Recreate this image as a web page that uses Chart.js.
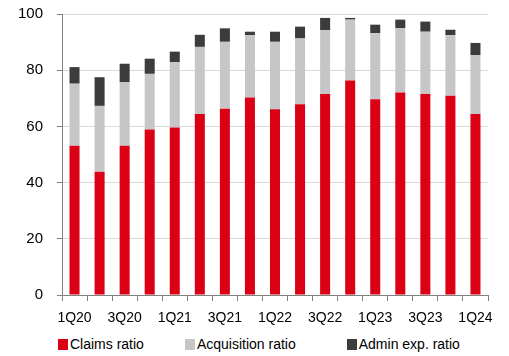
<!DOCTYPE html>
<html>
<head>
<meta charset="utf-8">
<script src="https://cdn.jsdelivr.net/npm/chart.js@4.4.1/dist/chart.umd.min.js"></script>
<style>
  html, body { margin: 0; padding: 0; background: #fff; }
  #wrap { position: relative; width: 509px; height: 356px; }
  #box { position: absolute; left: 0; top: 0; width: 509px; height: 332px; }
  #legend { position: absolute; left: 58px; top: 336px; display: flex; align-items: center;
            font: 14px "Liberation Sans", Arial, sans-serif; color: #000; white-space: nowrap; }
  #legend .item { display: flex; align-items: center; }
  #legend .sw { width: 10px; height: 11px; margin-right: 2px; }
  #legend .item:nth-child(2) { margin-left: 41px; }
  #legend .item:nth-child(3) { margin-left: 51px; }
</style>
</head>
<body>
<div id="wrap">
  <div id="box"><canvas id="c"></canvas></div>
  <div id="legend"></div>
</div>
<script>
// Quarterly combined-ratio components (%)
const quarters = ['1Q20','2Q20','3Q20','4Q20','1Q21','2Q21','3Q21','4Q21','1Q22','2Q22','3Q22','4Q22','1Q23','2Q23','3Q23','4Q23','1Q24'];
const claimsRatio      = [53.1, 43.9, 53.1, 58.9, 59.6, 64.4, 66.3, 70.3, 66.1, 67.9, 71.5, 76.3, 69.7, 72.1, 71.5, 70.9, 64.4];
const acquisitionRatio = [22.1, 23.4, 22.7, 19.8, 23.3, 23.9, 23.8, 22.2, 24.0, 23.4, 22.8, 21.7, 23.5, 22.8, 22.2, 21.6, 21.0];
const adminExpRatio    = [ 5.9, 10.2,  6.5,  5.4,  3.7,  4.3,  4.8,  1.2,  3.6,  4.2,  4.3,  0.6,  3.0,  3.1,  3.6,  1.9,  4.3];
const yTicks = [0, 20, 40, 60, 80, 100];

const FONT = { family: '"Liberation Sans", Arial, sans-serif', size: 14 };
const YFONT = { family: '"Liberation Sans", Arial, sans-serif', size: 15 };

const datasets = [
  { label: 'Claims ratio',      data: claimsRatio,      backgroundColor: '#DC0014' },
  { label: 'Acquisition ratio', data: acquisitionRatio, backgroundColor: '#C6C6C6' },
  { label: 'Admin exp. ratio',  data: adminExpRatio,    backgroundColor: '#3C3C3C' }
].map(d => Object.assign(d, { barPercentage: 0.4, categoryPercentage: 1.0, borderWidth: 0 }));

const chart = new Chart(document.getElementById('c'), {
  type: 'bar',
  data: { labels: quarters, datasets },
  options: {
    responsive: true,
    maintainAspectRatio: false,
    animation: false,
    layout: { padding: { top: 14, right: 21, left: 0, bottom: 0 } },
    plugins: { legend: { display: false }, tooltip: { enabled: false } },
    scales: {
      x: {
        stacked: true,
        afterFit: s => { s.height = 37; },
        border: { display: true, color: '#808080', width: 1 },
        grid: { offset: true, drawOnChartArea: false, drawTicks: true, tickLength: 6, color: '#808080' },
        ticks: {
          autoSkip: false, maxRotation: 0, padding: 9, color: '#000', font: FONT,
          callback: (v, i) => (i % 2 === 0 ? quarters[i] : '')
        }
      },
      y: {
        stacked: true,
        min: 0, max: 100,
        afterFit: s => { s.width = 62; s.paddingTop = 0; s.paddingBottom = 0; },
        afterBuildTicks: s => { s.ticks = yTicks.map(v => ({ value: v })); },
        border: { display: true, color: '#808080', width: 1 },
        grid: { color: '#D9D9D9', tickColor: '#808080', tickLength: 5, drawTicks: true },
        ticks: { padding: 14, color: '#000', font: YFONT }
      }
    }
  }
});

// Legend row built from the datasets
const legend = document.getElementById('legend');
chart.data.datasets.forEach(ds => {
  const item = document.createElement('div');
  item.className = 'item';
  const sw = document.createElement('span');
  sw.className = 'sw';
  sw.style.background = ds.backgroundColor;
  const tx = document.createElement('span');
  tx.textContent = ds.label;
  item.appendChild(sw);
  item.appendChild(tx);
  legend.appendChild(item);
});
</script>
</body>
</html>
